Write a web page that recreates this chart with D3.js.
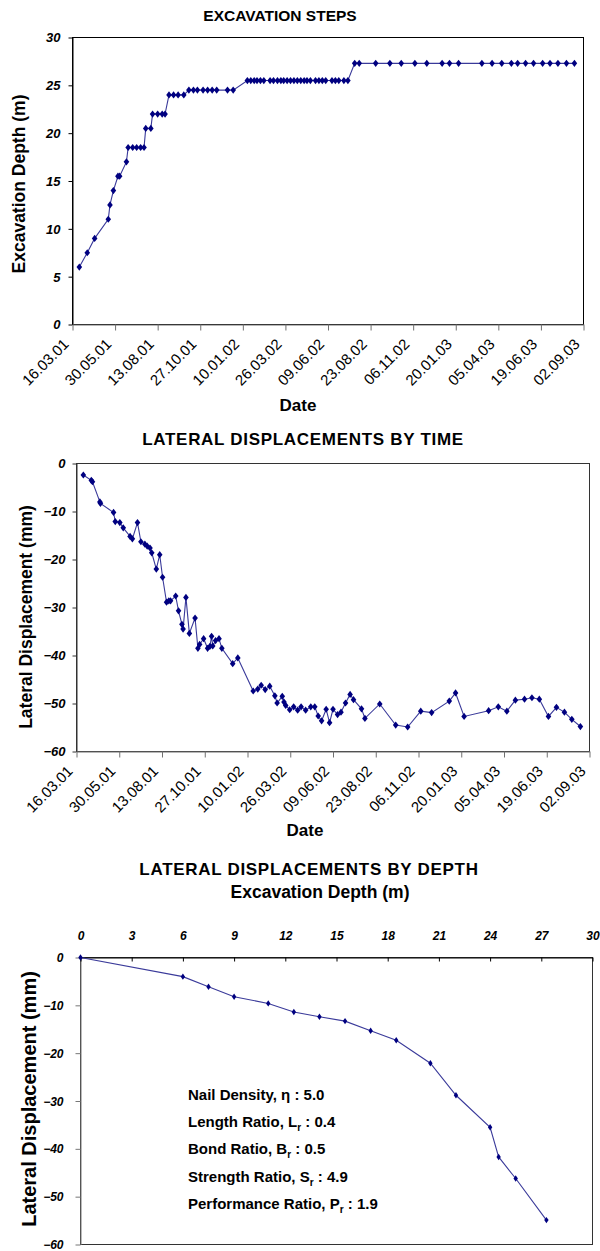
<!DOCTYPE html>
<html>
<head>
<meta charset="utf-8">
<script src="https://cdn.jsdelivr.net/npm/d3@7"></script>
<style>
  body { margin: 0; background: #fff; }
  svg { display: block; }
</style>
</head>
<body>
<svg id="chart" width="600" height="1251"></svg>
<script>
// ---------- data ----------
const dateTicks = ["16.03.01","30.05.01","13.08.01","27.10.01","10.01.02","26.03.02","09.06.02",
                   "23.08.02","06.11.02","20.01.03","05.04.03","19.06.03","02.09.03"];

// Excavation steps: reading date and excavation depth (m)
const stepDates = ["28.03.01","11.04.01","24.04.01","18.05.01","21.05.01","27.05.01","04.06.01","07.06.01",
  "19.06.01","22.06.01","30.06.01","07.07.01","14.07.01","20.07.01","23.07.01","01.08.01","04.08.01",
  "13.08.01","21.08.01","26.08.01","02.09.01","10.09.01","18.09.01","28.09.01","07.10.01","15.10.01",
  "22.10.01","01.11.01","09.11.01","17.11.01","25.11.01","14.12.01","24.12.01",
  "18.01.02","24.01.02","30.01.02","04.02.02","10.02.02","16.02.02","27.02.02","05.03.02","12.03.02",
  "18.03.02","23.03.02","29.03.02","04.04.02","10.04.02","16.04.02","22.04.02","28.04.02","03.05.02",
  "09.05.02","18.05.02","24.05.02","30.05.02","05.06.02","16.06.02","22.06.02","28.06.02","07.07.02",
  "14.07.02",
  "26.07.02","03.08.02","01.09.02","26.09.02","16.10.02","09.11.02","30.11.02","27.12.02","09.01.03",
  "25.01.03","07.03.03","25.03.03","11.04.03","28.04.03","09.05.03","23.05.03","06.06.03","22.06.03",
  "05.07.03","19.07.03","03.08.03","17.08.03"];
const stepDepths = [6,7.5,9,11,12.5,14,15.5,15.5,
  17,18.5,18.5,18.5,18.5,18.5,20.5,20.5,22,
  22,22,22,24,24,24,24,24.5,24.5,
  24.5,24.5,24.5,24.5,24.5,24.5,24.5,
  25.5,25.5,25.5,25.5,25.5,25.5,25.5,25.5,25.5,
  25.5,25.5,25.5,25.5,25.5,25.5,25.5,25.5,25.5,
  25.5,25.5,25.5,25.5,25.5,25.5,25.5,25.5,25.5,
  25.5,
  27.3,27.3,27.3,27.3,27.3,27.3,27.3,27.3,27.3,
  27.3,27.3,27.3,27.3,27.3,27.3,27.3,27.3,27.3,
  27.3,27.3,27.3,27.3];

// Lateral displacement (mm) by reading date
const dispDates = ["28.03.01","11.04.01","13.04.01","26.04.01","27.04.01","20.05.01","23.05.01","31.05.01",
  "06.06.01","18.06.01","22.06.01","01.07.01","07.07.01","14.07.01","18.07.01","23.07.01","26.07.01",
  "03.08.01","09.08.01","14.08.01","21.08.01","25.08.01","28.08.01","06.09.01","11.09.01","17.09.01",
  "19.09.01","24.09.01","30.09.01","10.10.01","15.10.01","18.10.01","25.10.01","01.11.01","05.11.01",
  "08.11.01","10.11.01","15.11.01","21.11.01","26.11.01","15.12.01","24.12.01","20.01.02","28.01.02",
  "03.02.02","10.02.02","18.02.02","27.02.02","03.03.02","12.03.02","15.03.02","18.03.02","25.03.02",
  "01.04.02","08.04.02","14.04.02","22.04.02","01.05.02","08.05.02","14.05.02","20.05.02","28.05.02",
  "03.06.02","09.06.02","17.06.02","23.06.02","01.07.02","09.07.02","15.07.02","29.07.02","04.08.02",
  "30.08.02","27.09.02","18.10.02","10.11.02","29.11.02","30.12.02","10.01.03","25.01.03","09.03.03",
  "26.03.03","10.04.03","25.04.03","11.05.03","24.05.03","06.06.03","22.06.03","06.07.03","20.07.03",
  "02.08.03","17.08.03"];
const dispValues = [-2.4,-3.5,-3.8,-8.0,-8.3,-10.2,-12.1,-12.3,
  -13.4,-15.2,-15.7,-12.3,-16.3,-16.8,-17.2,-17.6,-18.6,
  -22.0,-19.0,-23.7,-28.9,-28.6,-28.6,-27.6,-30.7,-33.5,
  -34.5,-27.9,-35.4,-32.2,-38.5,-37.7,-36.5,-38.5,-38.1,
  -36.0,-38.0,-36.9,-36.5,-38.5,-41.7,-40.5,-47.4,-47.0,
  -46.2,-47.1,-46.4,-48.4,-49.9,-48.5,-49.7,-50.4,-51.3,
  -50.7,-51.4,-50.7,-51.4,-50.7,-50.7,-52.6,-53.6,-51.2,
  -54.0,-51.2,-52.3,-51.8,-49.9,-48.1,-49.2,-51.1,-53.1,
  -50.1,-54.5,-54.9,-51.6,-51.9,-49.5,-47.8,-52.7,-51.5,
  -50.7,-51.6,-49.3,-49.1,-48.8,-49.1,-52.7,-50.8,-51.8,
  -53.3,-54.8];

// Lateral displacement (mm) against excavation depth (m)
const depthSteps = [0,6,7.5,9,11,12.5,14,15.5,17,18.5,20.5,22,24,24.5,25.5,27.3];
const depthDisp  = [0,-4.0,-6.1,-8.2,-9.6,-11.4,-12.4,-13.3,-15.3,-17.3,-22.1,-28.8,-35.5,-41.7,-46.2,-54.9];

const depthTicks = [0,5,10,15,20,25,30];
const dispTicks  = [0,-10,-20,-30,-40,-50,-60];
const depthTopTicks = [0,3,6,9,12,15,18,21,24,27,30];

const noteLabels = ["Nail Density, \u03b7","Length Ratio, L","Bond Ratio, B","Strength Ratio, S","Performance Ratio, P"];
const noteSubs   = ["","r","r","r","r"];
const noteValues = ["5.0","0.4","0.5","4.9","1.9"];

// ---------- helpers ----------
const FONT = "'Liberation Sans', Arial, Helvetica, sans-serif";
const NAVY = "#000080";
const parseDate = d3.utcParse("%d.%m.%y");
const fmtDate = d3.utcFormat("%d.%m.%y");
const svg = d3.select("#chart");

const diamond = (w, h) => `M0,${-h}L${w},0L0,${h}L${-w},0Z`;

function frame(g, b, color) {
  g.append("rect")
    .attr("x", b.x0).attr("y", b.y0)
    .attr("width", b.x1 - b.x0).attr("height", b.y1 - b.y0)
    .attr("fill", "none").attr("stroke", color).attr("stroke-width", 1);
}

function styleAxis(g, color) {
  g.select(".domain").attr("stroke", color);
  g.selectAll(".tick line").attr("stroke", color);
  g.selectAll(".tick text").attr("fill", "#000").attr("font-family", FONT);
}

function valueLabels(g, size, xOff) {
  g.selectAll(".tick text")
    .attr("font-size", size).attr("font-weight", "bold").attr("font-style", "italic")
    .attr("x", xOff).attr("dy", "0.34em");
}

function dateLabels(g) {
  g.selectAll(".tick text")
    .attr("font-size", 15).attr("font-weight", "normal")
    .attr("x", 0).attr("y", 0).attr("dy", "0.35em")
    .attr("text-anchor", "end")
    .attr("transform", "translate(-7,17) rotate(-45)");
}

function series(g, pts, x, y, lineColor, marker) {
  const line = d3.line().x(d => x(d[0])).y(d => y(d[1]));
  g.append("path").datum(pts)
    .attr("fill", "none").attr("stroke", lineColor).attr("stroke-width", 1.1)
    .attr("d", line);
  g.selectAll(null).data(pts).join("path")
    .attr("d", marker).attr("fill", NAVY)
    .attr("transform", d => `translate(${x(d[0])},${y(d[1])})`);
}

function label(g, txt, x, y, size, opts = {}) {
  const t = g.append("text").attr("x", x).attr("y", y)
    .attr("font-family", FONT).attr("font-size", size)
    .attr("font-weight", opts.weight || "bold")
    .attr("text-anchor", opts.anchor || "middle")
    .attr("fill", "#000").text(txt);
  if (opts.spacing) t.attr("letter-spacing", opts.spacing);
  if (opts.rotate) t.attr("transform", `rotate(${opts.rotate},${x},${y})`);
  return t;
}

// ---------- chart 1: excavation steps ----------
{
  const b = {x0: 72.5, x1: 583.5, y0: 37.5, y1: 324.5};
  const g = svg.append("g");
  const x = d3.scaleUtc()
    .domain([parseDate(dateTicks[0]), parseDate(dateTicks[dateTicks.length - 1])])
    .range([b.x0, b.x1]);
  const y = d3.scaleLinear().domain([0, 30]).range([b.y1, b.y0]);

  frame(g, b, "#000");

  const ya = g.append("g").attr("transform", `translate(${b.x0},0)`)
    .call(d3.axisLeft(y).tickValues(depthTicks).tickSize(4).tickSizeOuter(0));
  styleAxis(ya, "#000"); valueLabels(ya, 13, -12);

  const xa = g.append("g").attr("transform", `translate(0,${b.y1})`)
    .call(d3.axisBottom(x).tickValues(dateTicks.map(parseDate)).tickFormat(fmtDate)
      .tickSize(6).tickSizeOuter(0));
  styleAxis(xa, "#707070"); dateLabels(xa);

  const pts = stepDates.map((d, i) => [parseDate(d), stepDepths[i]]);
  series(g, pts, x, y, "#3a3a9a", diamond(2.8, 3.6));

  label(g, "EXCAVATION STEPS", 280, 21, 15.5);
  label(g, "Excavation Depth (m)", 25, 184, 17.5, {rotate: -90});
  label(g, "Date", 298, 411, 17);
}

// ---------- chart 2: lateral displacements by time ----------
{
  const b = {x0: 76.5, x1: 589.5, y0: 463.5, y1: 751.5};
  const g = svg.append("g");
  const x = d3.scaleUtc()
    .domain([parseDate(dateTicks[0]), parseDate(dateTicks[dateTicks.length - 1])])
    .range([b.x0, b.x1]);
  const y = d3.scaleLinear().domain([-60, 0]).range([b.y1, b.y0]);

  frame(g, b, "#333");

  const ya = g.append("g").attr("transform", `translate(${b.x0},0)`)
    .call(d3.axisLeft(y).tickValues(dispTicks).tickSize(4).tickSizeOuter(0));
  styleAxis(ya, "#333"); valueLabels(ya, 13, -11);

  const xa = g.append("g").attr("transform", `translate(0,${b.y1})`)
    .call(d3.axisBottom(x).tickValues(dateTicks.map(parseDate)).tickFormat(fmtDate)
      .tickSize(6).tickSizeOuter(0));
  styleAxis(xa, "#707070"); dateLabels(xa);

  const pts = dispDates.map((d, i) => [parseDate(d), dispValues[i]]);
  series(g, pts, x, y, "#3a3a9a", diamond(2.8, 3.6));

  label(g, "LATERAL DISPLACEMENTS BY TIME", 303, 445, 17, {spacing: 0.7});
  label(g, "Lateral Displacement (mm)", 32, 617, 17.5, {rotate: -90});
  label(g, "Date", 305, 836, 17);
}

// ---------- chart 3: lateral displacements by depth ----------
{
  const b = {x0: 80.5, x1: 592.5, y0: 957.5, y1: 1244.5};
  const g = svg.append("g");
  const x = d3.scaleLinear().domain([0, 30]).range([b.x0, b.x1]);
  const y = d3.scaleLinear().domain([-60, 0]).range([b.y1, b.y0]);

  frame(g, b, "#333");

  const ya = g.append("g").attr("transform", `translate(${b.x0},0)`)
    .call(d3.axisLeft(y).tickValues(dispTicks).tickSize(5).tickSizeOuter(0));
  styleAxis(ya, "#777"); valueLabels(ya, 12, -17);

  const xa = g.append("g").attr("transform", `translate(0,${b.y0})`)
    .call(d3.axisTop(x).tickValues(depthTopTicks).tickSize(-4).tickSizeOuter(0));
  styleAxis(xa, "#000");
  xa.selectAll(".tick text")
    .attr("font-size", 12).attr("font-weight", "bold").attr("font-style", "italic")
    .attr("y", -18).attr("dy", null);

  const pts = depthSteps.map((d, i) => [d, depthDisp[i]]);
  series(g, pts, x, y, "#3a3a9a", diamond(2.2, 3.2));

  label(g, "LATERAL DISPLACEMENTS BY DEPTH", 309, 875, 17, {spacing: 0.7});
  label(g, "Excavation Depth (m)", 320, 898, 17.5);
  label(g, "Lateral Displacement (mm)", 36, 1099, 20, {rotate: -90});

  const notes = g.append("g").attr("font-family", FONT).attr("font-weight", "bold")
    .attr("font-size", 15).attr("fill", "#000");
  noteLabels.forEach((lab, i) => {
    const t = notes.append("text").attr("x", 188).attr("y", 1100 + i * 27.2);
    t.append("tspan").text(lab);
    if (noteSubs[i]) {
      t.append("tspan").attr("font-size", 10).attr("dy", 4).text(noteSubs[i]);
      t.append("tspan").attr("dy", -4).text(" : " + noteValues[i]);
    } else {
      t.append("tspan").text(" : " + noteValues[i]);
    }
  });
}
</script>
</body>
</html>
